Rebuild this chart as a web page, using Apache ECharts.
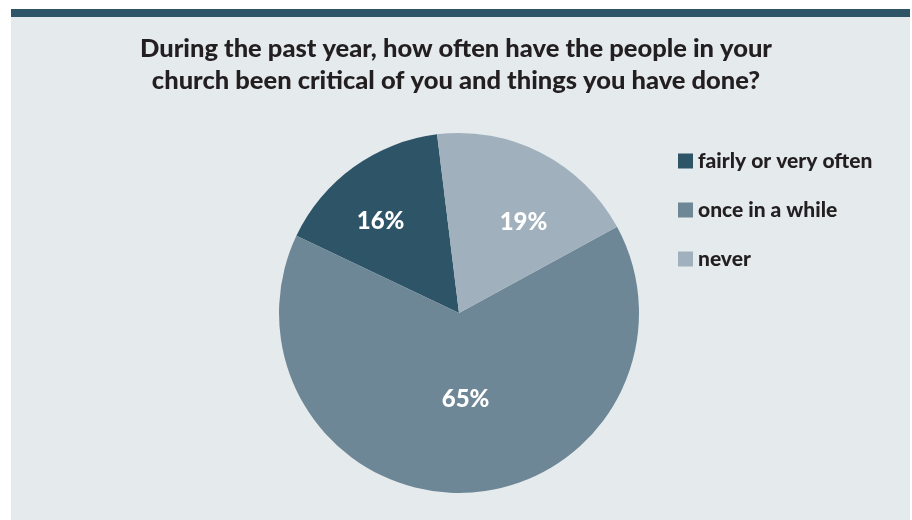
<!DOCTYPE html>
<html>
<head>
<meta charset="utf-8">
<script src="https://cdn.jsdelivr.net/npm/echarts@6/dist/echarts.min.js"></script>
<style>
  html, body { margin: 0; padding: 0; background: #ffffff; }
  #chart { width: 912px; height: 520px; }
</style>
</head>
<body>
<div id="chart"></div>
<script>
// Survey answers and their shares (percent)
const categories = ['fairly or very often', 'once in a while', 'never'];
const shares = [16, 65, 19];
const sliceColors = ['#2e5468', '#6e8796', '#a0b1bd'];
// Nudges for the in-slice percentage labels
const labelOffsets = [[-24, -16], [4, -7], [22, -8]];

const titleText = 'During the past year, how often have the people in your\nchurch been critical of you and things you have done?';

const chart = echarts.init(document.getElementById('chart'), null, { renderer: 'canvas' });

const fontFamily = 'Lato, "Open Sans", sans-serif';

chart.setOption({
  animation: false,
  backgroundColor: '#ffffff',
  graphic: [
    { type: 'rect', z: -10, shape: { x: 11, y: 9, width: 899, height: 511 }, style: { fill: '#e5eaed' } },
    { type: 'rect', z: -9, shape: { x: 11, y: 9, width: 899, height: 8 }, style: { fill: '#2e5468' } }
  ],
  title: {
    text: titleText,
    left: 'center',
    top: 28,
    textStyle: {
      fontFamily: fontFamily,
      fontWeight: 900,
      fontSize: 25.5,
      lineHeight: 32,
      color: '#231f20'
    }
  },
  legend: {
    orient: 'vertical',
    left: 673,
    top: 145,
    itemWidth: 15,
    itemHeight: 15,
    itemGap: 27,
    itemTextGap: 12,
    icon: 'rect',
    data: categories,
    textStyle: {
      fontFamily: fontFamily,
      fontWeight: 900,
      fontSize: 21,
      lineHeight: 22,
      color: '#231f20'
    }
  },
  series: [{
    type: 'pie',
    center: [459, 313],
    radius: [0, 180],
    startAngle: 97,
    clockwise: false,
    avoidLabelOverlap: false,
    emphasis: { disabled: true },
    itemStyle: { borderWidth: 0 },
    label: {
      show: true,
      position: 'inside',
      formatter: '{c}%',
      fontFamily: fontFamily,
      fontWeight: 900,
      fontSize: 24,
      color: '#ffffff'
    },
    labelLine: { show: false },
    data: categories.map((name, i) => ({
      name: name,
      value: shares[i],
      itemStyle: { color: sliceColors[i] },
      label: { offset: labelOffsets[i] }
    }))
  }]
});
</script>
</body>
</html>
